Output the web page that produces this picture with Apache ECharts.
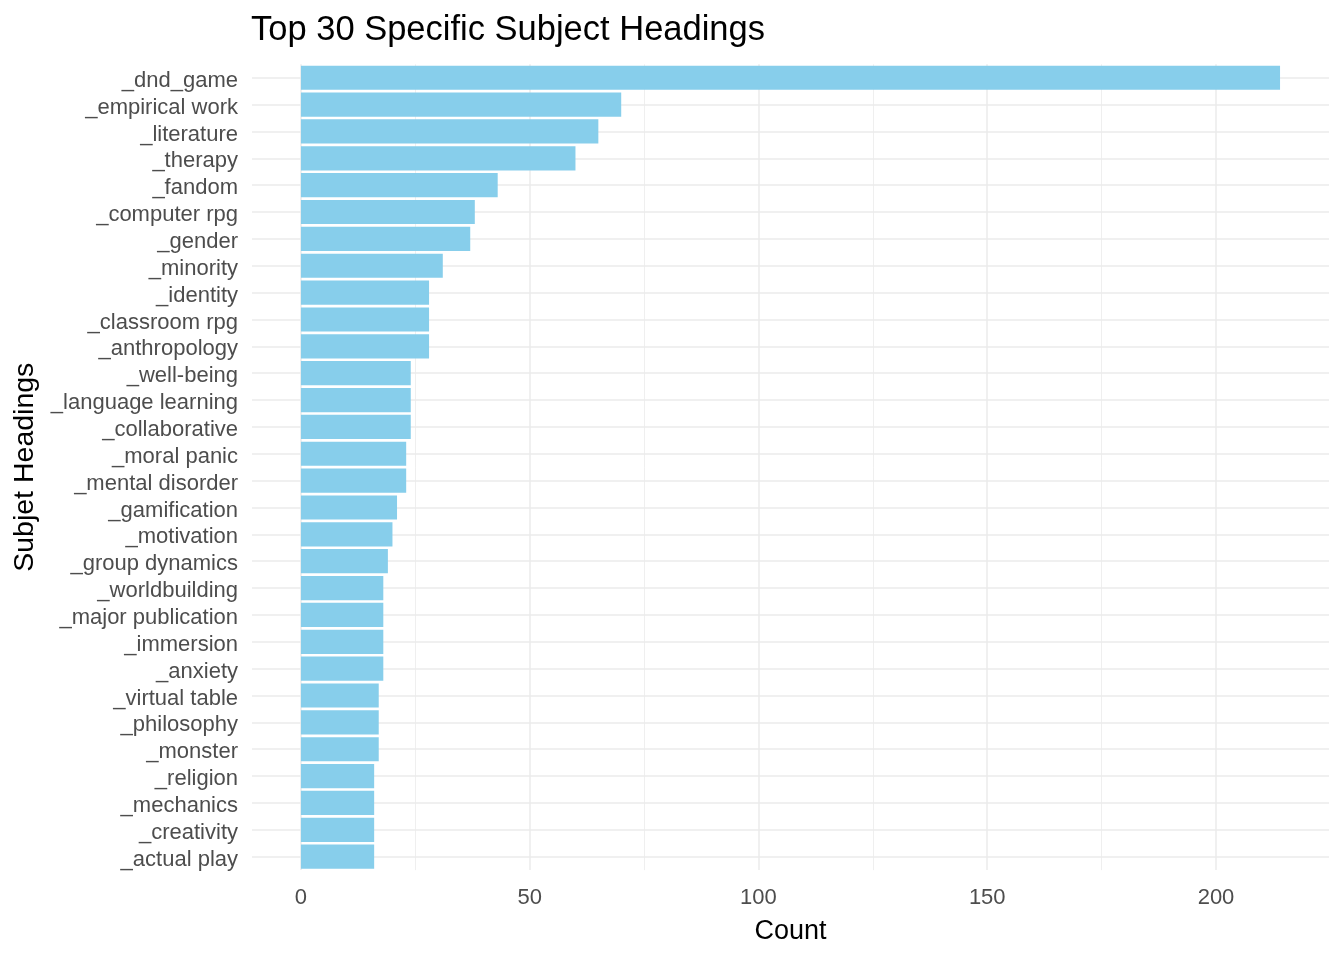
<!DOCTYPE html>
<html>
<head>
<meta charset="utf-8">
<title>Top 30 Specific Subject Headings</title>
<script src="https://cdn.jsdelivr.net/npm/echarts@6.0.0/dist/echarts.min.js"></script>
<style>
  html, body { margin: 0; padding: 0; background: #fff; }
  #chart { width: 1344px; height: 960px; }
</style>
</head>
<body>
<div id="chart"></div>
<script>
// subject headings, top to bottom as in the plot
var headings = [
    '_dnd_game', '_empirical work', '_literature', '_therapy', '_fandom',
    '_computer rpg', '_gender', '_minority', '_identity', '_classroom rpg',
    '_anthropology', '_well-being', '_language learning', '_collaborative', '_moral panic',
    '_mental disorder', '_gamification', '_motivation', '_group dynamics', '_worldbuilding',
    '_major publication', '_immersion', '_anxiety', '_virtual table', '_philosophy',
    '_monster', '_religion', '_mechanics', '_creativity', '_actual play'
];
var counts = [
    214, 70, 65, 60, 43,
    38, 37, 31, 28, 28,
    28, 24, 24, 24, 23,
    23, 21, 20, 19, 18,
    18, 18, 18, 17, 17,
    17, 16, 16, 16, 16
];
// x axis breaks
var majorTicks = [0, 50, 100, 150, 200];
var minorTicks = [25, 75, 125, 175];
// ggplot style padded range
var xMin = -10.7, xMax = 224.7;

var gridColor = '#EBEBEB';

var myChart = echarts.init(document.getElementById('chart'));

// grid lines drawn as mark lines so they sit behind the bars
var gridLines = [];
majorTicks.forEach(function (v) {
    gridLines.push({xAxis: v, lineStyle: {width: 1.5, color: gridColor}});
});
minorTicks.forEach(function (v) {
    gridLines.push({xAxis: v, lineStyle: {width: 0.8, color: gridColor}});
});
headings.forEach(function (h, i) {
    gridLines.push({yAxis: i, lineStyle: {width: 1.5, color: gridColor}});
});

var option = {
    animation: false,
    textStyle: {fontFamily: 'Liberation Sans, Arial, sans-serif'},
    title: {
        text: 'Top 30 Specific Subject Headings',
        left: 246,
        top: 8,
        textStyle: {fontSize: 34.5, fontWeight: 'normal', color: '#000'}
    },
    grid: {left: 252, right: 15, top: 64.3, bottom: 89.9},
    xAxis: {
        type: 'value',
        min: xMin,
        max: xMax,
        name: 'Count',
        nameLocation: 'middle',
        nameGap: 48,
        nameTextStyle: {fontSize: 27, color: '#000'},
        axisLine: {show: false},
        axisTick: {show: false},
        splitLine: {show: false},
        axisLabel: {
            customValues: majorTicks,
            fontSize: 22,
            color: '#4D4D4D',
            margin: 17
        }
    },
    yAxis: {
        type: 'category',
        data: headings,
        inverse: true,
        name: 'Subjet Headings',
        nameLocation: 'middle',
        nameGap: 210,
        nameTextStyle: {fontSize: 28.5, color: '#000'},
        axisLine: {show: false},
        axisTick: {show: false},
        splitLine: {show: false},
        axisLabel: {
            interval: 0,
            margin: 14,
            // nudge labels down a few px like the R output
            formatter: function (v) { return '{h|' + v + '}'; },
            rich: {
                h: {fontSize: 22, color: '#4D4D4D', lineHeight: 22, padding: [6, 0, 0, 0]}
            }
        }
    },
    series: [{
        type: 'bar',
        data: counts,
        barWidth: '90%',
        z: 2,
        itemStyle: {color: '#87CEEB'},
        markLine: {
            z: 1,
            silent: true,
            symbol: ['none', 'none'],
            label: {show: false},
            lineStyle: {type: 'solid'},
            data: gridLines
        }
    }]
};

myChart.setOption(option);
</script>
</body>
</html>
